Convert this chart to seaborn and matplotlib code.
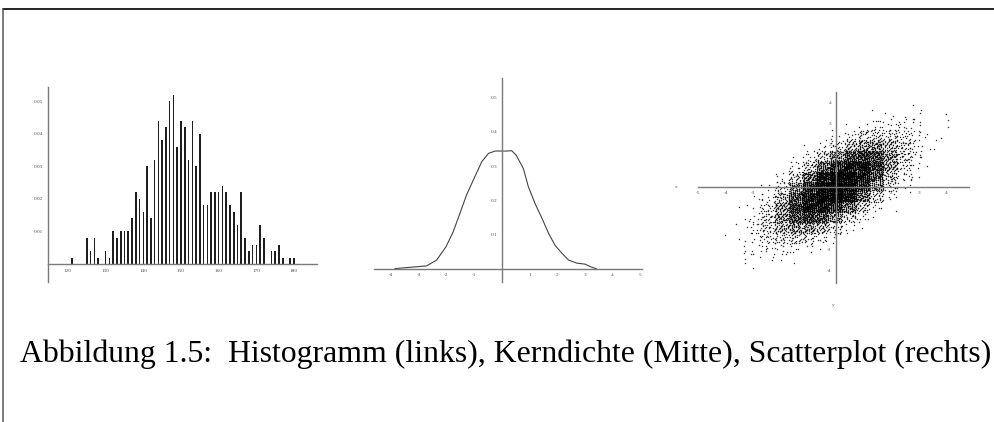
import numpy as np
import pandas as pd
import matplotlib
matplotlib.use("Agg")
import matplotlib.pyplot as plt
from matplotlib.lines import Line2D
import seaborn as sns

# ---------------- data ----------------
# Histogram (relative frequencies per integer value)
hist_x = [121, 125, 126, 127, 128, 130, 131, 132, 133, 134, 135, 136, 137, 138,
          139, 140, 141, 142, 143, 144, 145, 146, 147, 148, 149, 150, 151, 152,
          153, 154, 155, 156, 157, 158, 159, 160, 161, 162, 163, 164, 165, 166,
          167, 168, 169, 170, 171, 172, 174, 175, 176, 177, 179, 180]
hist_y = [0.002, 0.008, 0.004, 0.008, 0.002, 0.004, 0.002, 0.010, 0.008, 0.010,
          0.010, 0.010, 0.014, 0.022, 0.020, 0.016, 0.030, 0.014, 0.032, 0.044,
          0.038, 0.042, 0.050, 0.052, 0.036, 0.044, 0.042, 0.032, 0.044, 0.030,
          0.040, 0.018, 0.018, 0.022, 0.022, 0.022, 0.024, 0.022, 0.018, 0.016,
          0.012, 0.022, 0.008, 0.004, 0.006, 0.006, 0.012, 0.008, 0.004, 0.004,
          0.006, 0.002, 0.002, 0.002]
hist_xticks = [120, 130, 140, 150, 160, 170, 180]
hist_yticks = [0.01, 0.02, 0.03, 0.04, 0.05]

# Kernel density curve
kde_x = [-3.86, -3.43, -3.0, -2.71, -2.35, -2.01, -1.75, -1.51, -1.27, -1.0,
         -0.72, -0.48, -0.24, 0.0, 0.18, 0.36, 0.52, 0.78, 0.96, 1.2, 1.45,
         1.69, 1.93, 2.17, 2.41, 2.71, 3.01, 3.19, 3.43]
kde_y = [0.001, 0.004, 0.007, 0.009, 0.026, 0.065, 0.109, 0.162, 0.216, 0.264,
         0.313, 0.337, 0.344, 0.344, 0.344, 0.345, 0.332, 0.293, 0.240, 0.191,
         0.148, 0.104, 0.068, 0.046, 0.026, 0.017, 0.014, 0.007, 0.0]
kde_xticks = [-4, -3, -2, -1, 0, 1, 2, 3, 4, 5]
kde_yticks = [0.1, 0.2, 0.3, 0.4, 0.5]

# Scatterplot: estimated point counts per 0.5 x 0.5 cell (rows = y centres)
sc_xcent = [-3.75, -3.25, -2.75, -2.25, -1.75, -1.25, -0.75, -0.25,
            0.25, 0.75, 1.25, 1.75, 2.25, 2.75, 3.25, 3.75]
sc_ycent = [3.75, 3.25, 2.75, 2.25, 1.75, 1.25, 0.75, 0.25,
            -0.25, -0.75, -1.25, -1.75, -2.25, -2.75, -3.25, -3.75]
sc_counts = [
    [0, 0, 0, 0, 0, 0, 0, 0, 0, 0, 0, 0, 0, 1, 1, 1],
    [0, 0, 0, 0, 0, 0, 0, 0, 0, 0, 0, 3, 3, 3, 2, 1],
    [0, 0, 0, 0, 0, 0, 0, 0, 0, 4, 9, 13, 12, 7, 3, 1],
    [0, 0, 0, 0, 0, 0, 0, 2, 9, 22, 37, 39, 27, 12, 3, 1],
    [0, 0, 0, 0, 0, 0, 3, 15, 43, 83, 101, 79, 39, 13, 3, 0],
    [0, 0, 0, 0, 0, 4, 19, 65, 141, 196, 175, 100, 37, 9, 2, 0],
    [0, 0, 0, 0, 3, 20, 74, 185, 292, 299, 195, 82, 22, 4, 0, 0],
    [0, 0, 0, 2, 15, 65, 183, 336, 391, 293, 141, 43, 9, 1, 0, 0],
    [0, 0, 1, 9, 43, 141, 293, 391, 336, 183, 65, 15, 2, 0, 0, 0],
    [0, 0, 4, 22, 82, 195, 299, 292, 185, 74, 20, 3, 0, 0, 0, 0],
    [0, 2, 9, 37, 100, 175, 196, 141, 65, 19, 4, 0, 0, 0, 0, 0],
    [0, 3, 13, 39, 79, 101, 83, 43, 15, 3, 0, 0, 0, 0, 0, 0],
    [1, 3, 12, 27, 39, 37, 22, 9, 2, 0, 0, 0, 0, 0, 0, 0],
    [1, 3, 7, 12, 13, 9, 4, 0, 0, 0, 0, 0, 0, 0, 0, 0],
    [1, 2, 3, 3, 3, 0, 0, 0, 0, 0, 0, 0, 0, 0, 0, 0],
    [1, 1, 1, 0, 0, 0, 0, 0, 0, 0, 0, 0, 0, 0, 0, 0],
]
sc_xticks = [-5, -4, -3, -2, -1, 1, 2, 3, 4]
sc_xlabels = ["-5", "-4", "-3", "-2", "", "", "2", "3", "4"]
sc_yticks = [-4, -3, -2, -1, 1, 2, 3, 4]
sc_ylabels = ["-4", "-3", "-2", "", "", "2", "3", "4"]

caption = "Abbildung 1.5:  Histogramm (links), Kerndichte (Mitte), Scatterplot (rechts)"

# ---------------- figure ----------------
sns.set_theme(style="white")
plt.rcParams["font.family"] = ["Liberation Serif", "DejaVu Serif"]

W, H = 995, 422
fig = plt.figure(figsize=(W / 100, H / 100), dpi=100)
fig.patch.set_facecolor("white")


def add_ax(left, top, right, bottom):
    return fig.add_axes([left / W, 1 - bottom / H, (right - left) / W, (bottom - top) / H])


AX_COL = "#7a7a7a"
LBL_COL = "#555555"


def style_axis(ax, xzero=None, yzero=0):
    for s in ["top", "right"]:
        ax.spines[s].set_visible(False)
    if xzero is not None:
        ax.spines["left"].set_position(("data", xzero))
    ax.spines["bottom"].set_position(("data", yzero))
    for s in ["left", "bottom"]:
        ax.spines[s].set_color(AX_COL)
        ax.spines[s].set_linewidth(1.0)
    ax.tick_params(direction="inout", length=2.5, width=0.5, color=AX_COL,
                   labelsize=3.8, labelcolor=LBL_COL, pad=2)
    ax.set_facecolor("none")
    ax.set_xlabel("")
    ax.set_ylabel("")
    ax.grid(False)


# Histogram
ax1 = add_ax(48, 87, 317, 282)
hdf = pd.DataFrame({"x": hist_x, "y": hist_y})
sns.barplot(data=hdf, x="x", y="y", native_scale=True, width=0.42,
            color="#1e1e1e", saturation=1, errorbar=None, ax=ax1, linewidth=0)
ax1.set_xlim(114.7, 186.1)
ax1.set_ylim(-0.0055, 0.0543)
ax1.set_xticks(hist_xticks)
ax1.set_xticklabels([str(v) for v in hist_xticks])
ax1.set_yticks(hist_yticks)
ax1.set_yticklabels([f"{v:.2f}" for v in hist_yticks])
style_axis(ax1, xzero=None, yzero=0)

# Kernel density
ax2 = add_ax(374, 78, 641.7, 282)
kdf = pd.DataFrame({"x": kde_x, "y": kde_y})
sns.lineplot(data=kdf, x="x", y="y", color="#444444", linewidth=0.8, ax=ax2)
ax2.set_xlim(-4.61, 5.05)
ax2.set_ylim(-0.038, 0.557)
ax2.set_xticks(kde_xticks)
ax2.set_xticklabels([str(v) if v != 0 else "" for v in kde_xticks])
ax2.set_yticks(kde_yticks)
ax2.set_yticklabels([f"{v:.1f}" for v in kde_yticks])
style_axis(ax2, xzero=0, yzero=0)

# Scatterplot: each cell's counted points spread evenly around the cell centre
g1, g2 = 0.7548776662, 0.5698402910
SPREAD = 0.95
px, py = [], []
k = 0
for i, yc in enumerate(sc_ycent):
    for j, xc in enumerate(sc_xcent):
        for _ in range(sc_counts[i][j]):
            k += 1
            px.append(xc + (((0.5 + k * g1) % 1.0) - 0.5) * SPREAD)
            py.append(yc + (((0.5 + k * g2) % 1.0) - 0.5) * SPREAD)
sdf = pd.DataFrame({"x": px, "y": py})

ax3 = add_ax(698, 92, 969, 283)
sns.scatterplot(data=sdf, x="x", y="y", s=1.1, marker="o", color="black",
                alpha=0.8, linewidth=0, ax=ax3)
ax3.set_xlim(-5, 4.82)
ax3.set_ylim(-4.59, 4.51)
ax3.set_xticks(sc_xticks)
ax3.set_xticklabels(sc_xlabels)
ax3.set_yticks(sc_yticks)
ax3.set_yticklabels(sc_ylabels)
style_axis(ax3, xzero=0, yzero=0)

fig.text(676 / W, 1 - 187 / H, "x", fontsize=3.8, color=LBL_COL, ha="center", va="center")
fig.text(833 / W, 1 - 305 / H, "y", fontsize=3.8, color=LBL_COL, ha="center", va="center")

# Caption
fig.text(20 / W, 1 - 354 / H, caption, fontsize=22.9, color="black",
         ha="left", va="center", family=["Liberation Serif", "DejaVu Serif"])

# Page frame lines
fig.add_artist(Line2D([3 / W, 1.0], [1 - 9 / H, 1 - 9 / H], transform=fig.transFigure,
                      color="black", linewidth=1.2))
fig.add_artist(Line2D([3.5 / W, 3.5 / W], [0.0, 1 - 9 / H], transform=fig.transFigure,
                      color="#555555", linewidth=1.1))

fig.savefig("out.png", dpi=100)
